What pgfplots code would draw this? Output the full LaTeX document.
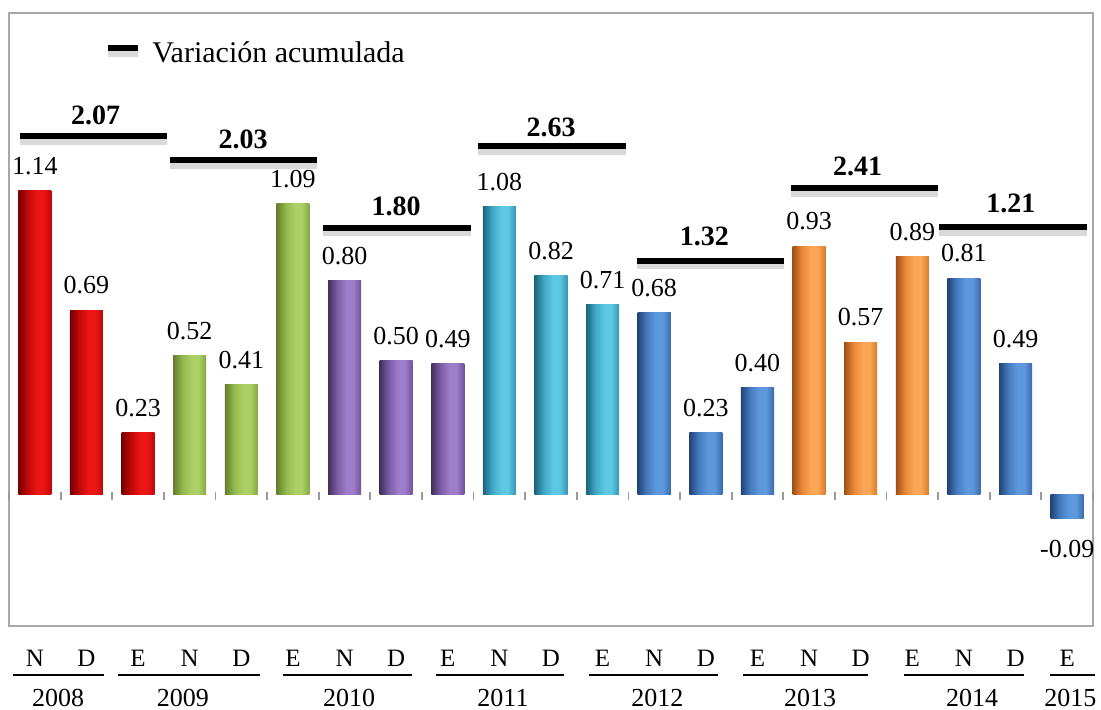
\documentclass[border=0pt]{standalone}
\usepackage{pgfplots}
\pgfplotsset{compat=1.18}
\usepackage{fontspec}
\setmainfont{Liberation Serif}

% frame and tick greys
\definecolor{framegray}{HTML}{A8A8A8}
\definecolor{tickgray}{HTML}{9A9A9A}

% bar palettes: dark edge, body, highlight, right edge
\definecolor{redA}{HTML}{760000}\definecolor{redB}{HTML}{C00808}\definecolor{redC}{HTML}{EC1616}\definecolor{redD}{HTML}{BE0808}
\definecolor{grnA}{HTML}{647E2C}\definecolor{grnB}{HTML}{92B84E}\definecolor{grnC}{HTML}{ADD066}\definecolor{grnD}{HTML}{86A844}
\definecolor{purA}{HTML}{422E5A}\definecolor{purB}{HTML}{7C5EA6}\definecolor{purC}{HTML}{9E7DCB}\definecolor{purD}{HTML}{70539A}
\definecolor{cyaA}{HTML}{1C647C}\definecolor{cyaB}{HTML}{40A8C6}\definecolor{cyaC}{HTML}{5DC8E2}\definecolor{cyaD}{HTML}{3694B2}
\definecolor{bluA}{HTML}{214476}\definecolor{bluB}{HTML}{467CC0}\definecolor{bluC}{HTML}{5E98DC}\definecolor{bluD}{HTML}{3A6AAC}
\definecolor{ornA}{HTML}{A05014}\definecolor{ornB}{HTML}{E88838}\definecolor{ornC}{HTML}{FCA656}\definecolor{ornD}{HTML}{D47A2C}

% cylinder-like horizontal shadings (the bar spans 25bp..75bp)
\newcommand\barshading[2]{%
  \pgfdeclarehorizontalshading{#1}{100bp}{color(0bp)=(#2A); color(25bp)=(#2A); color(39bp)=(#2B);
    color(53bp)=(#2C); color(63bp)=(#2C); color(75bp)=(#2D); color(100bp)=(#2D)}}
\barshading{barred}{red}
\barshading{bargrn}{grn}
\barshading{barpur}{pur}
\barshading{barcya}{cya}
\barshading{barblu}{blu}
\barshading{barorn}{orn}

\pgfplotsset{
  monthbar/.style={ybar, bar width=0.64, bar shift=0pt, draw=none, shade, shading=#1,
    forget plot, point meta=explicit symbolic, nodes near coords,
    every node near coord/.append style={text=black, font=\fontsize{13pt}{15pt}\selectfont, yshift=4.3pt}},
  cumshadow/.style={line width=3.2pt, black!15, forget plot},
  cumline/.style={line width=2.8pt, black},
}

\begin{document}
\begin{tikzpicture}
\begin{axis}[
  scale only axis, width=542pt, height=306.5pt,
  xmin=-0.5, xmax=20.5, ymin=-0.495, ymax=1.804,
  ytick=\empty,
  xtick={0,...,20},
  xticklabels={N,D,E,N,D,E,N,D,E,N,D,E,N,D,E,N,D,E,N,D,E},
  major tick length=0pt,
  xticklabel style={anchor=center, yshift=-16pt, font=\fontsize{12.5pt}{14pt}\selectfont},
  axis line style={framegray, line width=0.9pt},
  clip=false,
  legend style={draw=none, fill=none, inner sep=0pt, at={(rel axis cs:0.0876,0.934)}, anchor=west,
    font=\fontsize{15pt}{17pt}\selectfont},
  legend cell align=left,
  legend image code/.code={
    \draw[black!15, line width=3.2pt] (0pt,0pt) -- (15pt,0pt);
    \draw[black, line width=2.8pt] (0pt,2.6pt) -- (15pt,2.6pt);
    \path (19pt,0pt);},
]

% monthly variation, one bar per month, coloured by period
\addplot[monthbar=barred] coordinates {(0,1.14)[1.14]};
\addplot[monthbar=barred] coordinates {(1,0.69)[0.69]};
\addplot[monthbar=barred] coordinates {(2,0.23)[0.23]};
\addplot[monthbar=bargrn] coordinates {(3,0.52)[0.52]};
\addplot[monthbar=bargrn] coordinates {(4,0.41)[0.41]};
\addplot[monthbar=bargrn] coordinates {(5,1.09)[1.09]};
\addplot[monthbar=barpur] coordinates {(6,0.80)[0.80]};
\addplot[monthbar=barpur] coordinates {(7,0.50)[0.50]};
\addplot[monthbar=barpur] coordinates {(8,0.49)[0.49]};
\addplot[monthbar=barcya] coordinates {(9,1.08)[1.08]};
\addplot[monthbar=barcya] coordinates {(10,0.82)[0.82]};
\addplot[monthbar=barcya] coordinates {(11,0.71)[0.71]};
\addplot[monthbar=barblu] coordinates {(12,0.68)[0.68]};
\addplot[monthbar=barblu] coordinates {(13,0.23)[0.23]};
\addplot[monthbar=barblu] coordinates {(14,0.40)[0.40]};
\addplot[monthbar=barorn] coordinates {(15,0.93)[0.93]};
\addplot[monthbar=barorn] coordinates {(16,0.57)[0.57]};
\addplot[monthbar=barorn] coordinates {(17,0.89)[0.89]};
\addplot[monthbar=barblu] coordinates {(18,0.81)[0.81]};
\addplot[monthbar=barblu] coordinates {(19,0.49)[0.49]};
\addplot[monthbar=barblu, every node near coord/.append style={yshift=-28pt}] coordinates {(20,-0.09)[-0.09]};

% small separators on the zero line
\pgfplotsinvokeforeach{-0.5,0.5,...,20.5}{
  \draw[tickgray, line width=0.9pt] (axis cs:#1,0.0075) -- (axis cs:#1,-0.0225);
}

% accumulated variation bars (segment heights are placement only)
\addplot[cumshadow] coordinates {(-0.287,1.322) (2.562,1.322)};
\addplot[cumline] coordinates {(-0.287,1.342) (2.562,1.342)};
\addlegendentry{Variación acumulada}
\addplot[cumshadow] coordinates {(2.62,1.232) (5.47,1.232)};
\addplot[cumline, forget plot] coordinates {(2.62,1.252) (5.47,1.252)};
\addplot[cumshadow] coordinates {(5.585,0.978) (8.453,0.978)};
\addplot[cumline, forget plot] coordinates {(5.585,0.998) (8.453,0.998)};
\addplot[cumshadow] coordinates {(8.589,1.285) (11.457,1.285)};
\addplot[cumline, forget plot] coordinates {(8.589,1.305) (11.457,1.305)};
\addplot[cumshadow] coordinates {(11.67,0.854) (14.52,0.854)};
\addplot[cumline, forget plot] coordinates {(11.67,0.874) (14.52,0.874)};
\addplot[cumshadow] coordinates {(14.655,1.127) (17.50,1.127)};
\addplot[cumline, forget plot] coordinates {(14.655,1.147) (17.50,1.147)};
\addplot[cumshadow] coordinates {(17.52,0.981) (20.39,0.981)};
\addplot[cumline, forget plot] coordinates {(17.52,1.001) (20.39,1.001)};

\begin{scope}[font=\bfseries\fontsize{14pt}{16pt}\selectfont]
\node at (axis cs:1.176,1.419) {2.07};
\node at (axis cs:4.035,1.331) {2.03};
\node at (axis cs:7.0,1.080) {1.80};
\node at (axis cs:10.0,1.376) {2.63};
\node at (axis cs:12.97,0.967) {1.32};
\node at (axis cs:15.94,1.230) {2.41};
\node at (axis cs:18.91,1.091) {1.21};
\end{scope}

% year brackets under the month letters
\begin{scope}[line width=1pt]
\draw (axis cs:-0.42,-0.6806) -- (axis cs:1.34,-0.6806);
\draw (axis cs:1.61,-0.6806) -- (axis cs:4.36,-0.6806);
\draw (axis cs:4.81,-0.6806) -- (axis cs:7.31,-0.6806);
\draw (axis cs:7.78,-0.6806) -- (axis cs:10.26,-0.6806);
\draw (axis cs:10.74,-0.6806) -- (axis cs:13.24,-0.6806);
\draw (axis cs:13.71,-0.6806) -- (axis cs:16.15,-0.6806);
\draw (axis cs:16.83,-0.6806) -- (axis cs:19.17,-0.6806);
\draw (axis cs:19.67,-0.6806) -- (axis cs:20.53,-0.6806);
\end{scope}
\begin{scope}[every node/.style={inner sep=0pt, font=\fontsize{13pt}{15pt}\selectfont}]
\node at (axis cs:0.45,-0.765) {2008};
\node at (axis cs:2.87,-0.765) {2009};
\node at (axis cs:6.09,-0.765) {2010};
\node at (axis cs:9.07,-0.765) {2011};
\node at (axis cs:12.06,-0.765) {2012};
\node at (axis cs:15.02,-0.765) {2013};
\node at (axis cs:18.16,-0.765) {2014};
\node at (axis cs:20.06,-0.765) {2015};
\end{scope}

\coordinate (bbsw) at (rel axis cs:0,0);
\coordinate (bbne) at (rel axis cs:1,1);
\end{axis}
\pgfresetboundingbox
\path[use as bounding box] ([xshift=-4.5pt,yshift=-42pt]bbsw) rectangle ([xshift=4pt,yshift=6.5pt]bbne);
\end{tikzpicture}
\end{document}
